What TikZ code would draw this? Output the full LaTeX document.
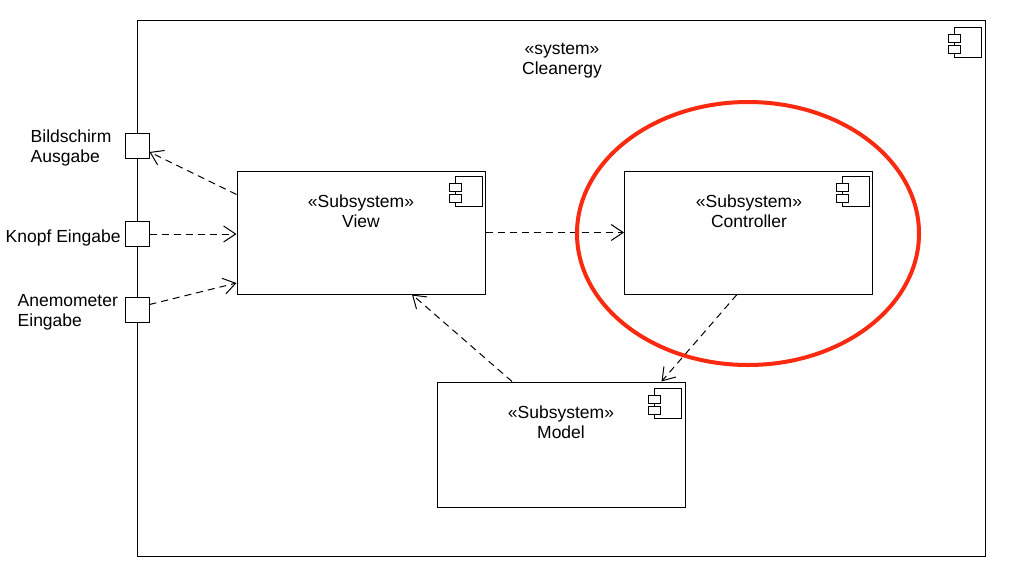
\documentclass[tikz,border=0pt]{standalone}
\usepackage{fontspec}
\setmainfont{Liberation Sans}
\usetikzlibrary{arrows.meta}
\definecolor{hl}{RGB}{250,42,16}
\tikzset{
  every node/.style={font=\fontsize{17.5}{20}\selectfont},
  box/.style={draw, line width=1pt, minimum width=248pt, minimum height=123pt, inner sep=0pt},
  port/.style={draw, fill=white, line width=1pt, minimum width=24pt, minimum height=25pt, inner sep=0pt},
  txt/.style={align=center, inner sep=0pt},
  ltxt/.style={align=left, inner sep=0pt, anchor=west},
  dep/.style={draw, line width=1pt, dash pattern=on 7pt off 5pt, -{Straight Barb[length=12pt,width=16pt,line width=1pt]}},
  compicon/.pic={
    \draw[line width=1pt, fill=white] (0pt,0pt) rectangle (27pt,-30pt);
    \draw[line width=1pt, fill=white] (-6pt,-7pt) rectangle (6pt,-15pt);
    \draw[line width=1pt, fill=white] (-6pt,-18pt) rectangle (6pt,-26pt);
  }
}
\begin{document}
\begin{tikzpicture}[x=1pt,y=-1pt]
\useasboundingbox (0,0) rectangle (1009,581);
% system frame
\node[draw, line width=1pt, minimum width=848pt, minimum height=536pt, inner sep=0pt] (sys) at (561,288) {};
\pic at (954,27) {compicon};
\node[txt] (syslbl) at (562,60.5) {«system»\\Cleanergy};

% subsystems
\node[box] (view) at (361,232.5) {};
\pic at (455,176) {compicon};
\node[txt] (viewlbl) at (361,211) {«Subsystem»\\View};

\node[box] (ctrl) at (748.5,232.5) {};
\pic at (842,176) {compicon};
\node[txt] (ctrllbl) at (749,211) {«Subsystem»\\Controller};

\node[box, minimum height=125pt] (model) at (561,444.5) {};
\pic at (654,388) {compicon};
\node[txt] (modellbl) at (561,422) {«Subsystem»\\Model};

% ports
\node[port] (bild) at (137,145.5) {};
\node[port] (knopf) at (137,234) {};
\node[port] (anem) at (137,309.5) {};
\node[ltxt] (bildlbl) at (30.5,148) {Bildschirm\\Ausgabe};
\node[ltxt] (knopflbl) at (5.5,238) {Knopf Eingabe};
\node[ltxt] (anemlbl) at (17.5,312) {Anemometer\\Eingabe};

% dependencies
\draw[dep] ([yshift=38pt]view.west) -- ([yshift=-6.5pt]bild.east);
\draw[dep] (knopf.east) -- (view.west |- knopf.east);
\draw[dep] ([yshift=5pt]anem.east) -- ([yshift=-50.5pt]view.west);
\draw[dep] (view.east) -- (ctrl.west);
\draw[dep] ([xshift=-11.5pt]ctrl.south) -- ([xshift=100.5pt]model.north);
\draw[dep] ([xshift=-49pt]model.north) -- ([xshift=51pt]view.south);

% highlight
\draw[hl, line width=4pt] (748,233.5) ellipse [x radius=171, y radius=131.5];
\end{tikzpicture}
\end{document}
